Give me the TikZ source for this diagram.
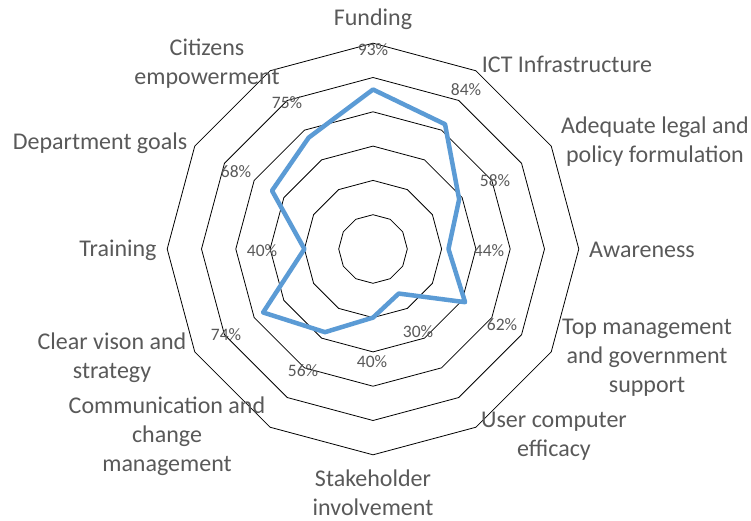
\documentclass[tikz,border=0pt]{standalone}
\usepackage{fontspec}
\setmainfont{Carlito}
\usetikzlibrary{positioning}
\definecolor{labelgray}{RGB}{89,89,89}
\definecolor{seriesblue}{RGB}{91,155,213}
\tikzset{
  cat/.style={text=labelgray,font=\fontsize{24}{29}\selectfont,align=center,inner sep=0pt},
  pct/.style={text=labelgray,font=\fontsize{17.5}{20}\selectfont,inner sep=0pt},
  ring/.style={black,line width=0.8pt,line join=miter},
  series/.style={seriesblue,line width=4.5pt,line join=round}
}

\begin{document}
\begin{tikzpicture}[x=1pt,y=-1pt]
\useasboundingbox (0,0) rectangle (751,521);
\begin{scope}[shift={(373,249)}]
\foreach \r in {1,...,6}
  \draw[ring] (-90:34.3*\r) \foreach \k in {1,...,11} {-- (-90+30*\k:34.3*\r)} -- cycle;
\foreach \v [count=\k] in {93,84,58,44,62,30,40,56,74,40,68,75}
  \coordinate (D\k) at (-120+30*\k:1.715*\v);
\end{scope}
\draw[series] (D1) -- (D2) -- (D3) -- (D4) -- (D5) -- (D6) -- (D7) -- (D8) -- (D9) -- (D10) -- (D11) -- (D12) -- cycle;
\node[cat] (L1) at (373,19) {Funding};
\node[cat] (L2) at (567,64) {ICT Infrastructure};
\node[cat] (L3) at (655,142) {Adequate legal and\\policy formulation};
\node[cat] (L4) at (642,250) {Awareness};
\node[cat] (L5) at (647,358) {Top management\\and government\\support};
\node[cat] (L6) at (554,436) {User computer\\efficacy};
\node[cat] (L7) at (373,493) {Stakeholder\\involvement};
\node[cat] (L8) at (167,436) {Communication and\\change\\management};
\node[cat] (L9) at (112,358) {Clear vison and\\strategy};
\node[cat] (L10) at (118,250) {Training};
\node[cat] (L11) at (100,143) {Department goals};
\node[cat] (L12) at (207,64) {Citizens\\empowerment};
\node[pct] (P1) at (373,50) {93\%};
\node[pct] (P2) at (466,90) {84\%};
\node[pct] (P3) at (495,181) {58\%};
\node[pct] (P4) at (489,251) {44\%};
\node[pct] (P5) at (502,325) {62\%};
\node[pct] (P6) at (418,332) {30\%};
\node[pct] (P7) at (372,362) {40\%};
\node[pct] (P8) at (303,371) {56\%};
\node[pct] (P9) at (226,335) {74\%};
\node[pct] (P10) at (262,251) {40\%};
\node[pct] (P11) at (236,172) {68\%};
\node[pct] (P12) at (287,103) {75\%};
\end{tikzpicture}
\end{document}
